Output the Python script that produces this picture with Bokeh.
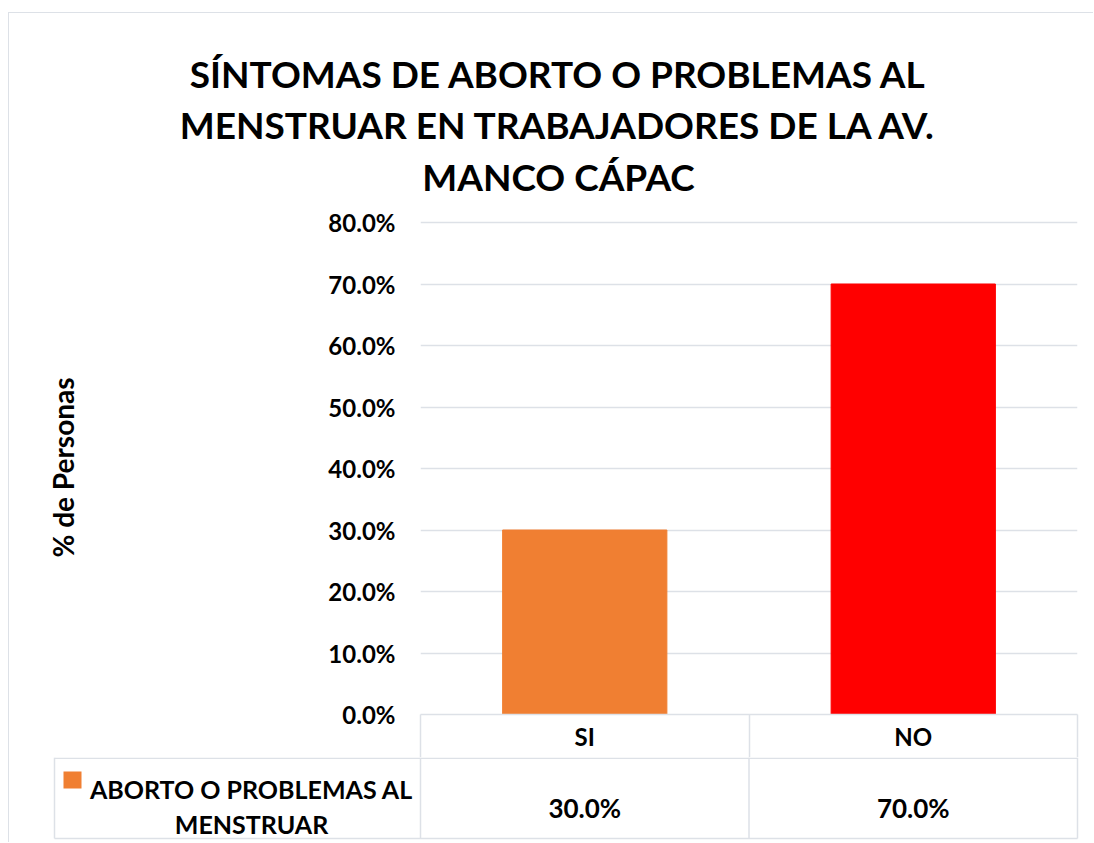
from bokeh.plotting import figure
from bokeh.models import ColumnDataSource, NumeralTickFormatter, FixedTicker, Range1d
from bokeh.layouts import column
from bokeh.core.properties import value
from bokeh.embed import file_html
from bokeh.resources import INLINE

# ---- data ----
categories = ["SI", "NO"]
values = [0.30, 0.70]
bar_colors = ["#F07F32", "#FF0000"]
y_ticks = [0.0, 0.1, 0.2, 0.3, 0.4, 0.5, 0.6, 0.7, 0.8]
title_lines = ["SÍNTOMAS DE ABORTO O PROBLEMAS AL",
               "MENSTRUAR EN TRABAJADORES DE LA AV.",
               "MANCO CÁPAC"]
y_label = "% de Personas"
series_name_lines = ["ABORTO O PROBLEMAS AL", "MENSTRUAR"]

FONT = "Lato"
GRID = "#DDE1E7"
OX, OY = 9, 13            # page origin of the layout content (after css margin+border)
W = 1084

# page geometry of the plot area
FRAME_L, FRAME_R, FRAME_T, FRAME_B = 420, 1077, 220, 714
Y0_PX, Y80_PX = 714, 222
ROW1, ROW2 = 757, 838
n = len(categories)
CAT = (FRAME_R - FRAME_L) / n


def strip(f):
    f.outline_line_color = None
    f.background_fill_color = "white"
    f.border_fill_color = "white"
    if "frame_align" in f.properties():
        f.frame_align = False


def bare(width, height, xr, yr):
    f = figure(width=width, height=height, output_backend="svg", toolbar_location=None,
               x_axis_location=None, y_axis_location=None,
               min_border=0, min_border_left=0, min_border_right=0,
               min_border_top=0, min_border_bottom=0, x_range=xr, y_range=yr)
    strip(f)
    f.grid.visible = False
    return f


# ---------------- title figure ----------------
TITLE_BOTTOM = 200
h = bare(W, TITLE_BOTTOM - OY, Range1d(OX, OX + W), Range1d(TITLE_BOTTOM, OY))
h.text(x=[558] * len(title_lines), y=[73, 124, 176], text=title_lines,
       text_align="center", text_baseline="alphabetic",
       text_font=value(FONT), text_font_style="bold", text_font_size="37px",
       text_color="black")

# ---------------- main chart ----------------
pad = 0.8 * (Y80_PX - FRAME_T) / (Y0_PX - Y80_PX)
p = figure(x_range=Range1d(0, n), y_range=Range1d(0, 0.8 + pad),
           width=W, height=ROW1 - TITLE_BOTTOM,
           output_backend="svg", toolbar_location=None,
           min_border_left=FRAME_L - OX, min_border_right=OX + W - FRAME_R,
           min_border_top=FRAME_T - TITLE_BOTTOM, min_border_bottom=ROW1 - FRAME_B)
strip(p)

centers = [i + 0.5 for i in range(n)]
src = ColumnDataSource(dict(x=centers, val=values, color=bar_colors))
p.vbar(x="x", top="val", width=0.5, color="color", source=src)

p.yaxis.ticker = FixedTicker(ticks=y_ticks)
p.yaxis.formatter = NumeralTickFormatter(format="0.0%")
p.yaxis.axis_line_color = None
p.yaxis.major_tick_line_color = None
p.yaxis.minor_tick_line_color = None
p.yaxis.major_label_standoff = 19
p.yaxis.major_label_text_font = FONT
p.yaxis.major_label_text_font_style = "bold"
p.yaxis.major_label_text_font_size = "24px"
p.yaxis.major_label_text_color = "black"
p.yaxis.axis_label = y_label
p.yaxis.axis_label_standoff = 245
p.yaxis.axis_label_text_font = FONT
p.yaxis.axis_label_text_font_style = "bold"
p.yaxis.axis_label_text_font_size = "28px"
p.yaxis.axis_label_text_color = "black"

# category axis: labels at centres, cell borders as minor ticks at boundaries
ROW1_H = ROW1 - FRAME_B
p.xaxis.ticker = FixedTicker(ticks=centers, minor_ticks=list(range(n + 1)))
p.xaxis.major_label_overrides = {c: cat for c, cat in zip(centers, categories)}
p.xaxis.axis_line_color = GRID
p.xaxis.axis_line_width = 1.5
p.xaxis.major_tick_line_color = None
p.xaxis.major_tick_out = 0
p.xaxis.major_tick_in = 0
p.xaxis.minor_tick_line_color = GRID
p.xaxis.minor_tick_line_width = 1.5
p.xaxis.minor_tick_out = ROW1_H
p.xaxis.minor_tick_in = 0
p.xaxis.major_label_standoff = 7 - ROW1_H
p.xaxis.major_label_text_font = FONT
p.xaxis.major_label_text_font_style = "bold"
p.xaxis.major_label_text_font_size = "24px"
p.xaxis.major_label_text_color = "black"

p.xgrid.grid_line_color = None
p.ygrid.grid_line_color = GRID
p.ygrid.grid_line_width = 1.5

# ---------------- data table (values row) ----------------
T_H = 842 - ROW1
t = bare(W, T_H, Range1d((OX - FRAME_L) / CAT, (OX + W - FRAME_L) / CAT),
         Range1d(ROW1 + T_H, ROW1))

LEG_L = (54 - FRAME_L) / CAT
t.segment(x0=[LEG_L, LEG_L], x1=[n, n], y0=[ROW1 + 0.75, ROW2], y1=[ROW1 + 0.75, ROW2],
          line_color=GRID, line_width=1.5)
bx = [LEG_L] + list(range(n + 1))
t.segment(x0=bx, x1=bx, y0=[ROW1] * len(bx), y1=[ROW2] * len(bx),
          line_color=GRID, line_width=1.5)

t.text(x=centers, y=[807] * n, text=[f"{v*100:.1f}%" for v in values],
       text_align="center", text_baseline="alphabetic", text_font=value(FONT),
       text_font_style="bold", text_font_size="26px", text_color="black")
t.quad(left=[(63 - FRAME_L) / CAT], right=[(81 - FRAME_L) / CAT], top=[771], bottom=[788],
       fill_color=bar_colors[0], line_color=None)
t.text(x=[(251 - FRAME_L) / CAT] * 2, y=[788, 823], text=series_name_lines,
       text_align="center", text_baseline="alphabetic", text_font=value(FONT),
       text_font_style="bold", text_font_size="25px", text_color="black")

layout = column(h, p, t, spacing=0,
                styles={"margin-left": "8px", "margin-top": "12px",
                        "border-left": "1px solid " + GRID,
                        "border-top": "1px solid " + GRID})

open("out.html", "w").write(file_html(layout, INLINE))
